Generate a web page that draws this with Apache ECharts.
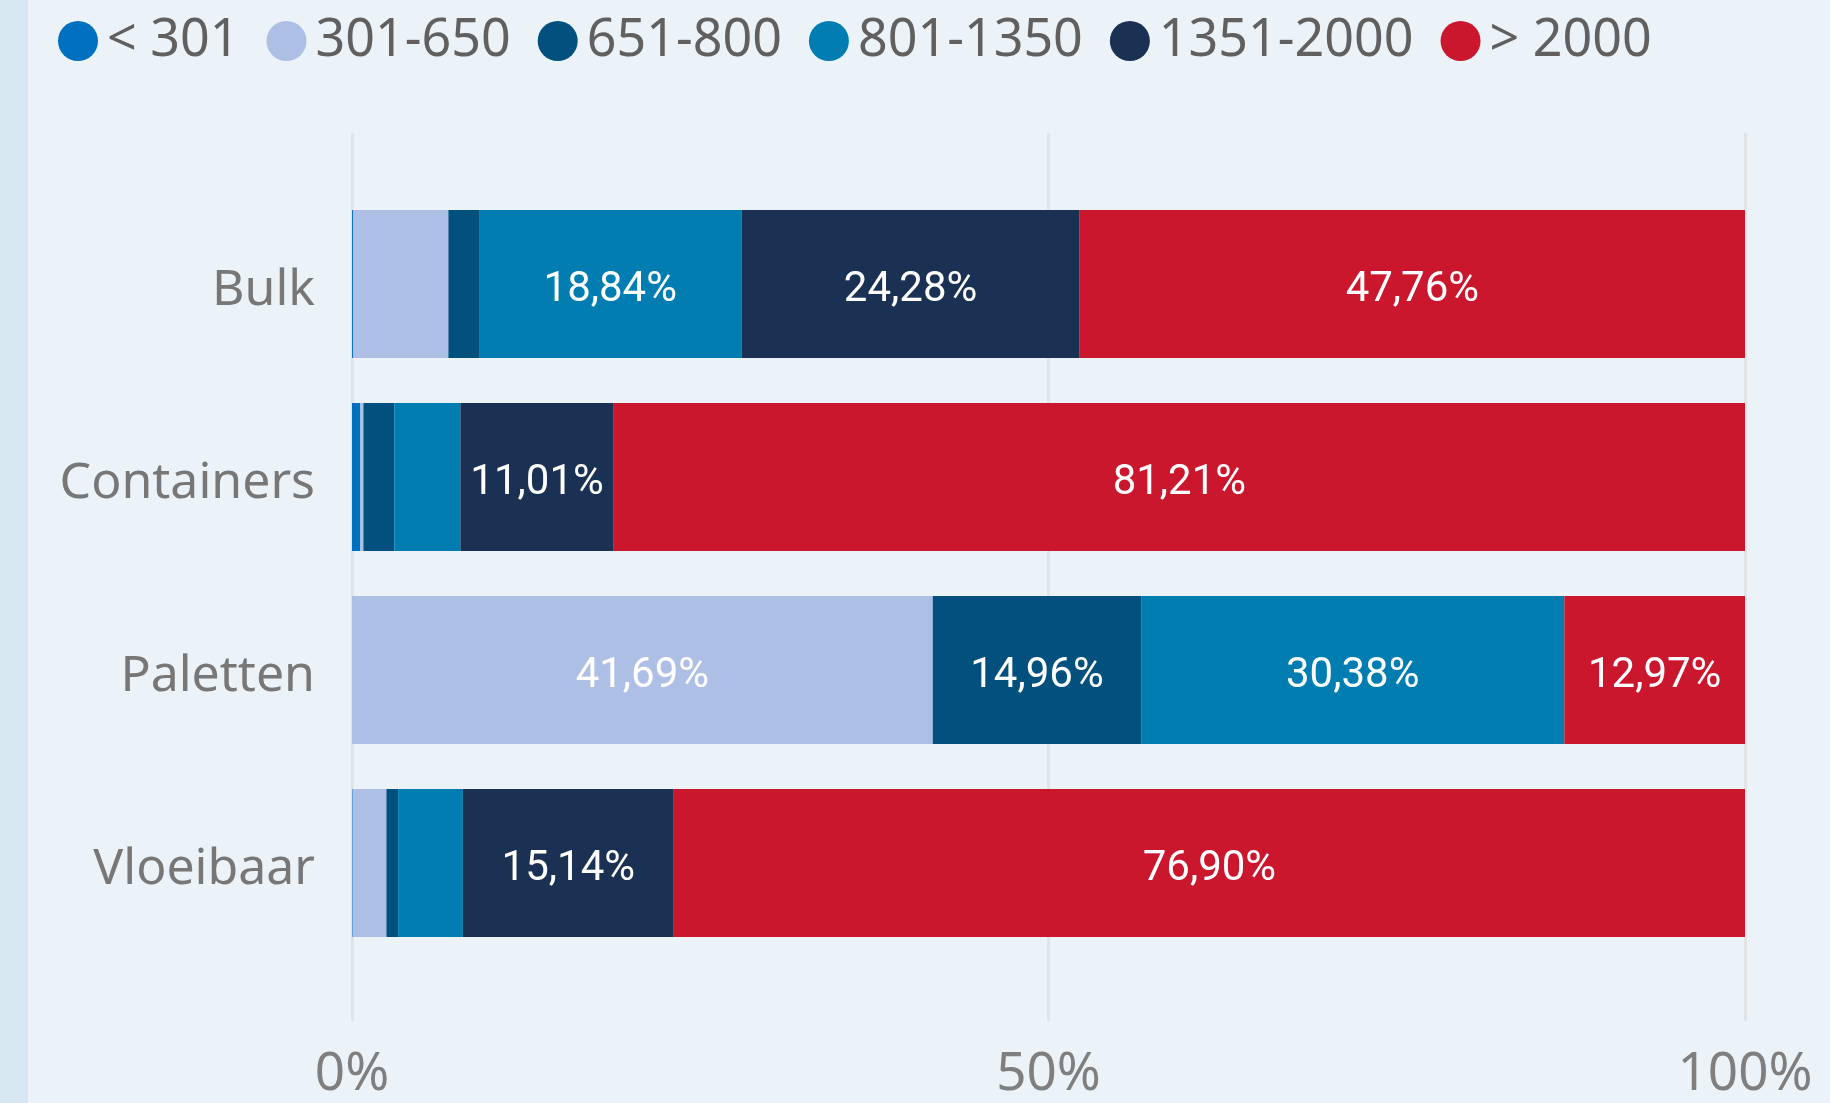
<!DOCTYPE html>
<html>
<head>
<meta charset="utf-8">
<title>Verdeling per afstandsklasse</title>
<script src="https://cdn.jsdelivr.net/npm/echarts@6/dist/echarts.min.js"></script>
<style>
  html, body { margin: 0; padding: 0; }
  body { background: linear-gradient(to right, #d8e8f2 28px, #ebf3f9 28px); }
  #chart { width: 1830px; height: 1103px; }
</style>
</head>
<body>
<div id="chart"></div>
<script>
// categorieen (van boven naar onder)
var categories = ['Bulk', 'Containers', 'Paletten', 'Vloeibaar']

// klassen + kleuren
var classes = ['< 301', '301-650', '651-800', '801-1350', '1351-2000', '> 2000']
var colors = ['#0070c0', '#adbfe4', '#02507d', '#017db2', '#1a3153', '#cb172d']

// aandeel in % per klasse, volgorde = categories
var lt301 = [0.07, 0.60, 0, 0.05]
var r301_650 = [6.85, 0.22, 41.69, 2.42]
var r651_800 = [2.20, 2.22, 14.96, 0.84]
var r801_1350 = [18.84, 4.74, 30.38, 4.65]
var r1351_2000 = [24.28, 11.01, 0, 15.14]
var gt2000 = [47.76, 81.21, 12.97, 76.90]

var xTicks = [0, 50, 100]

var seriesValues = [lt301, r301_650, r651_800, r801_1350, r1351_2000, gt2000]

var fmt = function (v) {
  return v.toFixed(2).replace('.', ',') + '%'
}

var series = classes.map(function (name, i) {
  return {
    name: name,
    type: 'bar',
    stack: 'totaal',
    xAxisIndex: 1,
    yAxisIndex: 1,
    barWidth: 148,
    itemStyle: { color: colors[i] },
    label: {
      show: true,
      position: 'inside',
      offset: [0, 6],
      color: '#ffffff',
      fontFamily: 'Roboto',
      fontWeight: 'normal',
      fontSize: 42,
      formatter: function (p) {
        return p.value >= 10 ? fmt(p.value) : ''
      }
    },
    data: seriesValues[i]
  }
})

var chart = echarts.init(document.getElementById('chart'))

chart.setOption({
  animation: false,
  backgroundColor: 'transparent',
  legend: {
    left: 53,
    top: 10,
    itemWidth: 40,
    itemHeight: 40,
    itemGap: 27,
    icon: 'circle',
    data: classes,
    textStyle: {
      fontFamily: 'Noto Sans',
      fontSize: 52,
      lineHeight: 52,
      color: '#606060',
      padding: [0, 0, 0, 4]
    }
  },
  grid: [
    // alleen voor de verticale hulplijnen en de as-labels
    { left: 352, right: 85, top: 133, bottom: 82 },
    // de balken
    { left: 352, right: 85, top: 187.5, bottom: 143.5 }
  ],
  xAxis: [
    {
      gridIndex: 0,
      type: 'value',
      min: xTicks[0],
      max: xTicks[xTicks.length - 1],
      interval: 50,
      axisLine: { show: false },
      axisTick: { show: false },
      splitLine: { lineStyle: { color: '#e1e3e5', width: 3 } },
      axisLabel: {
        margin: 27,
        fontFamily: 'Noto Sans',
        fontSize: 53,
        color: '#7f7f7f',
        formatter: '{value}%'
      }
    },
    {
      gridIndex: 1,
      type: 'value',
      min: 0,
      max: 100,
      show: false
    }
  ],
  yAxis: [
    {
      gridIndex: 0,
      type: 'category',
      data: categories,
      show: false
    },
    {
      gridIndex: 1,
      type: 'category',
      inverse: true,
      data: categories,
      axisLine: { show: false },
      axisTick: { show: false },
      axisLabel: {
        margin: 37,
        formatter: '{c|{value}}',
        rich: {
          c: {
            padding: [13, 0, 0, 0],
            fontFamily: 'Noto Sans',
            fontSize: 50,
            color: '#777777'
          }
        }
      }
    }
  ],
  series: series
})
</script>
</body>
</html>
